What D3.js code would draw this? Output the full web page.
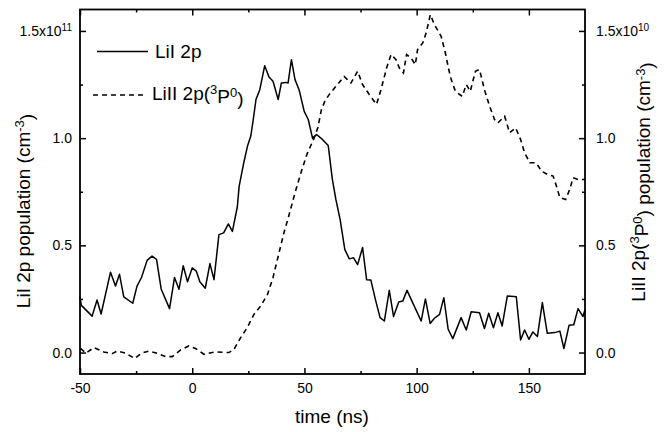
<!DOCTYPE html>
<html>
<head>
<meta charset="utf-8">
<script src="https://cdn.jsdelivr.net/npm/d3@7"></script>
<style>
  body { margin: 0; background: #fff; }
  svg { display: block; font-family: "Liberation Sans", Arial, Helvetica, sans-serif; }
</style>
</head>
<body>
<svg id="chart" width="668" height="432"></svg>
<script>
// ---- data ----
const liI_t = [-50, -49.4, -44.6, -42.4, -40.6, -36.4, -34.2, -32.4, -30.5, -26.5, -24.6, -22.6, -20.1, -17.9, -15.9, -13.8, -10.1, -7.9, -5.9, -4.0, -2.1, 0, 1.8, 3.4, 5.8, 7.9, 9.7, 11.9, 14.0, 16.1, 17.9, 20.1, 20.9, 22.8, 24.6, 26.1, 27.2, 28.4, 30.1, 32.3, 34.2, 36.0, 38.3, 39.7, 41.7, 42.7, 44.2, 45.8, 47.6, 49.9, 51.7, 53.6, 55.4, 58.0, 60.6, 62.4, 64.0, 65.9, 68.0, 70.0, 71.9, 73.7, 75.9, 77.7, 79.6, 81.6, 83.7, 85.6, 87.8, 89.7, 92.0, 93.8, 95.7, 98.2, 102.0, 103.9, 106.0, 107.9, 110.2, 112.1, 114.0, 116.1, 119.8, 122.1, 124.3, 128.0, 130.2, 132.1, 134.2, 136.2, 138.1, 140.4, 144.4, 146.3, 148.1, 150.0, 151.8, 153.8, 156.0, 158.2, 161.5, 163.8, 165.6, 167.9, 170.0, 171.9, 174.1, 175];
const liI_v = [0.26, 0.22, 0.17, 0.245, 0.18, 0.375, 0.31, 0.365, 0.26, 0.23, 0.31, 0.35, 0.43, 0.45, 0.435, 0.295, 0.205, 0.35, 0.295, 0.405, 0.33, 0.395, 0.38, 0.33, 0.30, 0.415, 0.34, 0.55, 0.558, 0.60, 0.565, 0.68, 0.775, 0.877, 0.962, 1.01, 1.087, 1.18, 1.226, 1.338, 1.285, 1.265, 1.18, 1.257, 1.26, 1.257, 1.366, 1.273, 1.226, 1.125, 1.087, 1.0, 1.017, 0.994, 0.966, 0.81, 0.714, 0.62, 0.48, 0.437, 0.442, 0.41, 0.49, 0.34, 0.338, 0.248, 0.163, 0.147, 0.29, 0.168, 0.236, 0.24, 0.29, 0.233, 0.147, 0.25, 0.136, 0.16, 0.178, 0.256, 0.11, 0.065, 0.163, 0.105, 0.19, 0.186, 0.112, 0.183, 0.116, 0.186, 0.124, 0.264, 0.26, 0.059, 0.105, 0.062, 0.096, 0.075, 0.233, 0.09, 0.093, 0.10, 0.019, 0.127, 0.13, 0.205, 0.168, 0.20];

const liII_t = [-49.8, -47.3, -43.9, -39.4, -35.7, -33.5, -29.7, -25.6, -22.6, -19.3, -15.6, -11.9, -8.9, -5.2, -1.5, 1.5, 5.2, 10.4, 16.4, 18.6, 21.6, 24.5, 27.5, 30.5, 33.5, 36.0, 38.7, 40.9, 43.2, 45.4, 48.4, 51.3, 54.3, 56.0, 57.5, 59.0, 61.0, 64.7, 67.7, 70.7, 73.7, 75.9, 78.9, 82.1, 84.1, 86.6, 88.6, 90.8, 92.3, 94.1, 95.5, 97.5, 99.4, 100.4, 102.7, 104.2, 106.1, 107.9, 110.9, 112.8, 114.3, 115.4, 117.3, 120.3, 122.1, 123.9, 125.0, 126.2, 128.0, 130.2, 132.5, 134.7, 136.2, 139.2, 141.4, 144.1, 146.3, 148.1, 150.4, 153.3, 155.6, 158.5, 160.8, 162.3, 163.8, 166.4, 168.2, 169.7, 171.9, 175];
const liII_v = [0.019, -0.003, 0.023, 0.003, -0.005, 0.007, -0.003, -0.028, -0.003, 0.007, -0.003, -0.019, -0.019, 0.012, 0.031, 0.019, -0.008, 0.003, 0.0, 0.015, 0.07, 0.116, 0.178, 0.217, 0.27, 0.35, 0.466, 0.56, 0.644, 0.73, 0.838, 0.93, 1.0, 1.05, 1.13, 1.17, 1.203, 1.25, 1.288, 1.257, 1.312, 1.25, 1.203, 1.157, 1.226, 1.327, 1.39, 1.366, 1.327, 1.304, 1.39, 1.374, 1.343, 1.413, 1.444, 1.49, 1.576, 1.53, 1.475, 1.397, 1.32, 1.273, 1.218, 1.195, 1.25, 1.218, 1.265, 1.312, 1.32, 1.226, 1.149, 1.087, 1.071, 1.102, 1.025, 1.048, 0.994, 0.932, 0.885, 0.885, 0.846, 0.83, 0.823, 0.776, 0.722, 0.714, 0.761, 0.815, 0.807, 0.807];

const xMajorTicks = [-50, 0, 50, 100, 150];
const xMinorTicks = [-25, 25, 75, 125];
const yMajorTicks = [0, 0.5, 1.0, 1.5];
const yMinorTicks = [0.25, 0.75, 1.25];
const leftTickLabels = ["0.0", "0.5", "1.0", "1.5x10"];
const rightTickLabels = ["0.0", "0.5", "1.0", "1.5x10"];
const leftExponent = "11";
const rightExponent = "10";
const seriesNames = ["LiI 2p", "LiII 2p"];

// ---- layout ----
const L = 80, R = 585, T = 9.5, B = 374;
const svg = d3.select("#chart");
const x = d3.scaleLinear().domain([-50, 175]).range([L, R]);
const y = d3.scaleLinear().domain([-0.1, 1.6]).range([B, T]);

const tickFont = 14;

function styleAxis(g) {
  g.select(".domain").remove();
  g.selectAll(".tick line").attr("stroke", "#000").attr("stroke-width", 1.5);
  g.selectAll("text").attr("font-size", tickFont).attr("fill", "#000")
    .attr("font-family", "'Liberation Sans', Arial, sans-serif");
}

// bottom
svg.append("g").attr("transform", `translate(0,${B})`)
  .call(d3.axisBottom(x).tickValues(xMajorTicks).tickSize(-6).tickPadding(9).tickFormat(d => String(d)))
  .call(styleAxis);
svg.append("g").attr("transform", `translate(0,${B})`)
  .call(d3.axisBottom(x).tickValues(xMinorTicks).tickSize(-3).tickFormat(""))
  .call(styleAxis);
// top
svg.append("g").attr("transform", `translate(0,${T})`)
  .call(d3.axisTop(x).tickValues(xMajorTicks).tickSize(-6).tickFormat(""))
  .call(styleAxis);
svg.append("g").attr("transform", `translate(0,${T})`)
  .call(d3.axisTop(x).tickValues(xMinorTicks).tickSize(-3).tickFormat(""))
  .call(styleAxis);
// left
const gl = svg.append("g").attr("transform", `translate(${L},0)`)
  .call(d3.axisLeft(y).tickValues(yMajorTicks).tickSize(-6).tickPadding(8)
    .tickFormat((d, i) => leftTickLabels[i]))
  .call(styleAxis);
svg.append("g").attr("transform", `translate(${L},0)`)
  .call(d3.axisLeft(y).tickValues(yMinorTicks).tickSize(-3).tickFormat(""))
  .call(styleAxis);
// right
const gr = svg.append("g").attr("transform", `translate(${R},0)`)
  .call(d3.axisRight(y).tickValues(yMajorTicks).tickSize(-6).tickPadding(11)
    .tickFormat((d, i) => rightTickLabels[i]))
  .call(styleAxis);
svg.append("g").attr("transform", `translate(${R},0)`)
  .call(d3.axisRight(y).tickValues(yMinorTicks).tickSize(-3).tickFormat(""))
  .call(styleAxis);

// exponents
gl.selectAll(".tick text").filter(d => d === 1.5)
  .append("tspan").attr("dy", "-0.45em").attr("font-size", 10).text(leftExponent);
gr.selectAll(".tick text").filter(d => d === 1.5)
  .append("tspan").attr("dy", "-0.45em").attr("font-size", 10).text(rightExponent);

// frame
svg.append("rect").attr("x", L).attr("y", T).attr("width", R - L).attr("height", B - T)
  .attr("fill", "none").attr("stroke", "#000").attr("stroke-width", 1.8);

// lines
const solidData = liI_t.map((t, i) => ({ t, v: liI_v[i] }));
const dashData = liII_t.map((t, i) => ({ t, v: liII_v[i] }));
const line = d3.line().x(d => x(d.t)).y(d => y(d.v));

svg.append("path").datum(solidData).attr("d", line)
  .attr("fill", "none").attr("stroke", "#000").attr("stroke-width", 1.5)
  .attr("stroke-linejoin", "round");
svg.append("path").datum(dashData).attr("d", line)
  .attr("fill", "none").attr("stroke", "#000").attr("stroke-width", 1.6)
  .attr("stroke-dasharray", "5,4");

// legend
const legFont = 19;
svg.append("line").attr("x1", 97).attr("x2", 148).attr("y1", 51.5).attr("y2", 51.5)
  .attr("stroke", "#000").attr("stroke-width", 1.5);
svg.append("text").attr("x", 155).attr("y", 58).attr("font-size", legFont).text(seriesNames[0]);
svg.append("line").attr("x1", 93).attr("x2", 143).attr("y1", 95).attr("y2", 95)
  .attr("stroke", "#000").attr("stroke-width", 1.6).attr("stroke-dasharray", "5,4");
const t2 = svg.append("text").attr("x", 152).attr("y", 100).attr("font-size", legFont);
t2.append("tspan").text(seriesNames[1] + "(");
t2.append("tspan").attr("dy", "-0.45em").attr("font-size", 13).text("3");
t2.append("tspan").attr("dy", "0.45em").text("P");
t2.append("tspan").attr("dy", "-0.45em").attr("font-size", 13).text("0");
t2.append("tspan").attr("dy", "0.45em").text(")");

// axis titles
const titleFont = 19;
svg.append("text").attr("x", 332).attr("y", 423).attr("text-anchor", "middle")
  .attr("font-size", titleFont).text("time (ns)");

const lt = svg.append("text").attr("transform", "translate(30,211) rotate(-90)")
  .attr("text-anchor", "middle").attr("font-size", titleFont);
lt.append("tspan").text("LiI 2p population (cm");
lt.append("tspan").attr("dy", "-0.45em").attr("font-size", 13).text("-3");
lt.append("tspan").attr("dy", "0.45em").text(")");

const rt = svg.append("text").attr("transform", "translate(645,182) rotate(-90)")
  .attr("text-anchor", "middle").attr("font-size", titleFont);
rt.append("tspan").text("LiII 2p(");
rt.append("tspan").attr("dy", "-0.45em").attr("font-size", 13).text("3");
rt.append("tspan").attr("dy", "0.45em").text("P");
rt.append("tspan").attr("dy", "-0.45em").attr("font-size", 13).text("0");
rt.append("tspan").attr("dy", "0.45em").text(") population (cm");
rt.append("tspan").attr("dy", "-0.45em").attr("font-size", 13).text("-3");
rt.append("tspan").attr("dy", "0.45em").text(")");
</script>
</body>
</html>
